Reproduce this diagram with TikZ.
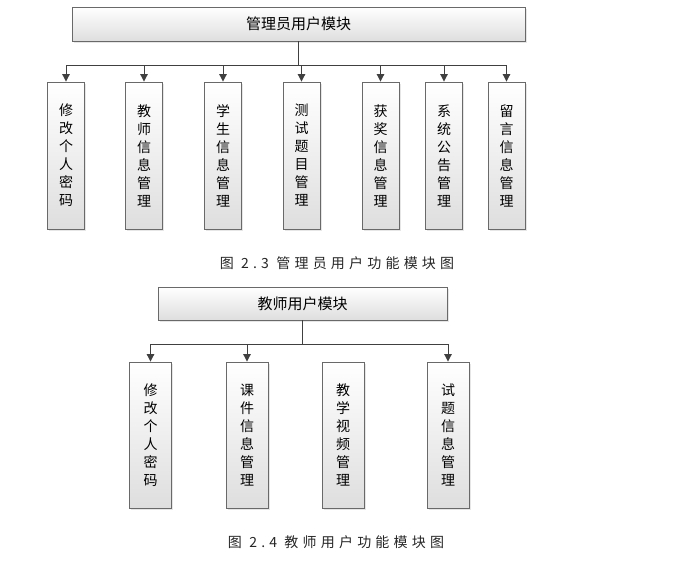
\documentclass[tikz,border=0pt]{standalone}
\usepackage{fontspec}
\setmainfont{Noto Sans CJK SC}
\newfontfamily\capfont[LetterSpace=30]{Noto Sans CJK SC}
\usepackage{xcolor}
\usepackage{tikz}
\definecolor{linegray}{RGB}{64, 64, 64}
\definecolor{bordergray}{RGB}{105, 105, 105}
\definecolor{fillgray}{RGB}{222, 222, 222}
\usetikzlibrary{shapes, arrows.meta, positioning, shadows, calc}

\begin{document}
\begin{tikzpicture}[
    x=1pt, y=-1pt,
    modbox/.style={rectangle, draw=bordergray, line width=0.9pt, top color=white, bottom color=fillgray, drop shadow={opacity=0.2, shadow xshift=1.5pt, shadow yshift=-1.5pt}, align=center, inner sep=0pt},
    headbox/.style={modbox, font=\fontsize{15}{18}\selectfont},
    subbox/.style={modbox, font=\fontsize{14}{18}\selectfont},
    line/.style={draw=linegray, line width=1pt},
    arrow/.style={line, -{Triangle[width=7.5pt, length=7.5pt]}},
    caption/.style={font=\capfont\fontsize{14}{16}\selectfont, text=black!85}
]
    \useasboundingbox (0, 0) rectangle (678, 568);

    % Admin module
    \node[headbox, minimum width=453pt, minimum height=34pt] (admin) at (298.5, 24) {管理员用户模块};
    \node[subbox, minimum width=37pt, minimum height=147pt] (a1) at (66, 155.5) {修\\改\\个\\人\\密\\码};
    \node[subbox, minimum width=37pt, minimum height=147pt] (a2) at (144, 155.5) {教\\师\\信\\息\\管\\理};
    \node[subbox, minimum width=37pt, minimum height=147pt] (a3) at (223, 155.5) {学\\生\\信\\息\\管\\理};
    \node[subbox, minimum width=37pt, minimum height=147pt] (a4) at (301.5, 155.5) {测\\试\\题\\目\\管\\理};
    \node[subbox, minimum width=37pt, minimum height=147pt] (a5) at (380.5, 155.5) {获\\奖\\信\\息\\管\\理};
    \node[subbox, minimum width=37pt, minimum height=147pt] (a6) at (444, 155.5) {系\\统\\公\\告\\管\\理};
    \node[subbox, minimum width=37pt, minimum height=147pt] (a7) at (506.5, 155.5) {留\\言\\信\\息\\管\\理};

    \coordinate (abus) at (298.5, 65);
    \draw[line] (admin.south) -- (abus);
    \draw[line] (a1.north |- abus) -- (a7.north |- abus);
    \draw[arrow] (a1.north |- abus) -- (a1.north);
    \draw[arrow] (a2.north |- abus) -- (a2.north);
    \draw[arrow] (a3.north |- abus) -- (a3.north);
    \draw[arrow] (a4.north |- abus) -- (a4.north);
    \draw[arrow] (a5.north |- abus) -- (a5.north);
    \draw[arrow] (a6.north |- abus) -- (a6.north);
    \draw[arrow] (a7.north |- abus) -- (a7.north);

    \node[caption] (cap1) at (337, 263) {图 2.3 管理员用户功能模块图};

    % Teacher module
    \node[headbox, minimum width=289pt, minimum height=33pt] (teacher) at (302.5, 303.5) {教师用户模块};
    \node[subbox, minimum width=42pt, minimum height=146pt] (t1) at (150.5, 435) {修\\改\\个\\人\\密\\码};
    \node[subbox, minimum width=42pt, minimum height=146pt] (t2) at (247, 435) {课\\件\\信\\息\\管\\理};
    \node[subbox, minimum width=42pt, minimum height=146pt] (t3) at (343, 435) {教\\学\\视\\频\\管\\理};
    \node[subbox, minimum width=42pt, minimum height=146pt] (t4) at (448, 435) {试\\题\\信\\息\\管\\理};

    \coordinate (tbus) at (302.5, 344);
    \draw[line] (teacher.south) -- (tbus);
    \draw[line] (t1.north |- tbus) -- (t4.north |- tbus);
    \draw[arrow] (t1.north |- tbus) -- (t1.north);
    \draw[arrow] (t2.north |- tbus) -- (t2.north);
    \draw[arrow] (t4.north |- tbus) -- (t4.north);

    \node[caption] (cap2) at (336, 542) {图 2.4 教师用户功能模块图};

\end{tikzpicture}
\end{document}
